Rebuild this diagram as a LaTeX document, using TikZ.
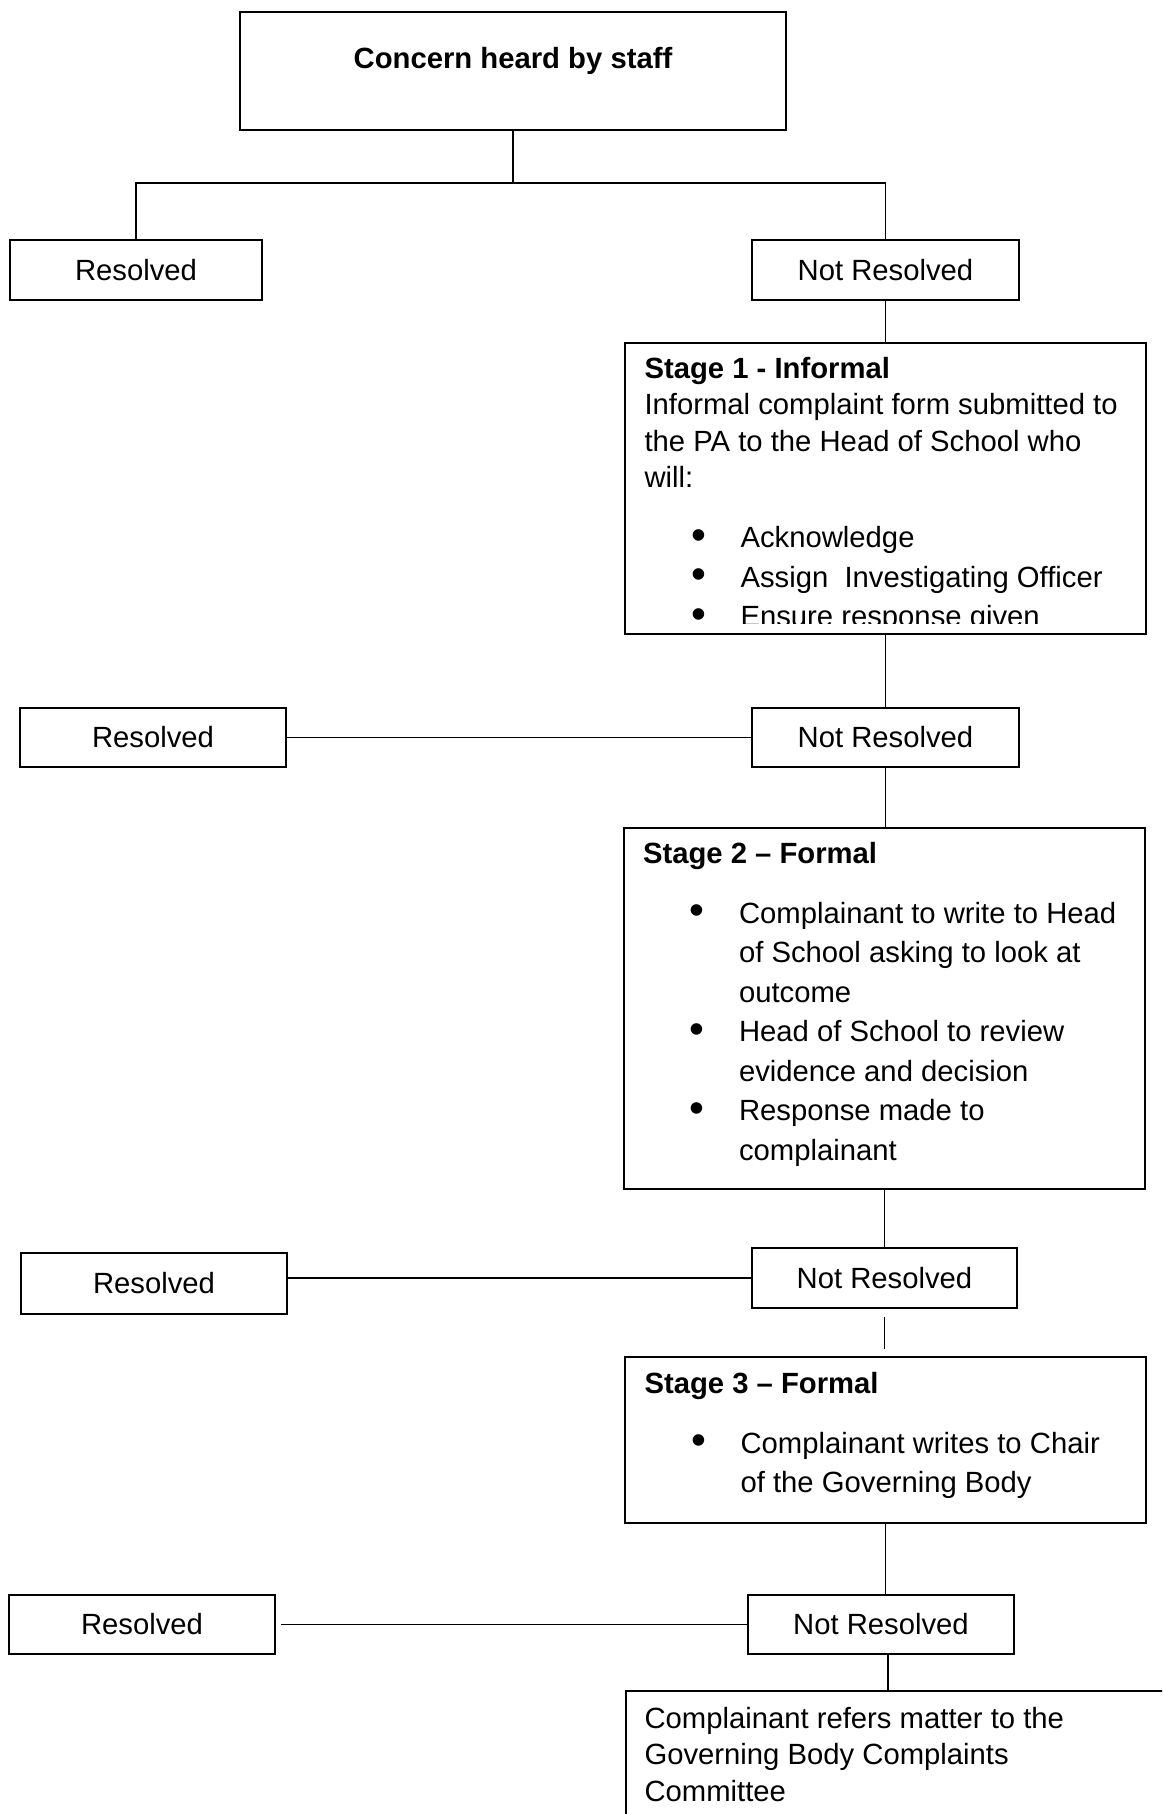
\documentclass[tikz,border=0pt]{standalone}
\usepackage{fontspec}
\setmainfont{Liberation Sans}
\usepackage{tikz}
\tikzstyle{cadre} = [rectangle, draw=black, line width=0.75pt, inner sep=0pt]
\tikzstyle{issue} = [cadre, minimum height=24pt, font=\fontsize{11.7}{14.6}\selectfont]
\tikzstyle{texte} = [anchor=north west, inner sep=0pt, align=left, font=\fontsize{11.7}{14.6}\selectfont]
\tikzstyle{trait} = [line width=0.75pt]
\newcommand{\puce}{\hspace*{18.6pt}\makebox[19.8pt][l]{\raisebox{-0.7pt}{\scalebox{1.45}{\textbullet}}}}
\newcommand{\suite}{\hspace*{38.4pt}}
\newcommand{\haut}{\rule{0pt}{10pt}}

\begin{document}
\begin{tikzpicture}[x=0.4pt, y=-0.4pt]

        \useasboundingbox (0,0) rectangle (1162,1814);
        \clip (0,0) rectangle (1162,1814);

        \node (concern) [cadre, minimum width=218.4pt, minimum height=47.2pt] at (513,71) {};
        \node (concerntitle) [texte, anchor=center, font=\fontsize{11.7}{14.6}\selectfont\bfseries] at (513,61) {Concern heard by staff};

        \node (res1) [issue, minimum width=100.8pt] at (136,270) {Resolved};
        \node (nr1) [issue, minimum width=106.8pt] at (885.5,270) {Not Resolved};

        \coordinate (fork) at (513,183);
        \draw[trait] (concern) -- (fork);
        \draw[trait] (fork) -| (res1);
        \draw[trait] (fork) -| (nr1);

        \node (stageone) [cadre, minimum width=208.4pt, minimum height=116.4pt] at (885.5,488.5) {};
        \begin{scope}
            \clip (stageone.north west) rectangle ([yshift=4.4pt]stageone.south east);
            \node (stageonetext) [texte] at ([shift={(20,10.5)}]stageone.north west) {\haut\textbf{Stage 1 - Informal}\\
                Informal complaint form submitted to\\
                the PA to the Head of School who\\
                will:\\[9.4pt]
                \puce Acknowledge\\[1.2pt]
                \puce Assign~ Investigating Officer\\[1.2pt]
                \puce Ensure response given};
        \end{scope}
        \draw[trait] (nr1) -- (stageone);

        \node (res2) [issue, minimum width=106.4pt, minimum height=23.6pt] at (153,737.5) {Resolved};
        \node (nr2) [issue, minimum width=106.8pt, minimum height=23.6pt] at (885.5,737.5) {Not Resolved};
        \draw[trait] (stageone) -- (nr2);
        \draw[trait] (res2) -- (nr2);

        \node (stagetwo) [cadre, minimum width=208.4pt, minimum height=144.4pt] at (884.5,1008.5) {};
        \node (stagetwotext) [texte] at ([shift={(19.5,10.5)}]stagetwo.north west) {\haut\textbf{Stage 2 – Formal}\\[9.4pt]
            \puce Complainant to write to Head\\[1.2pt]
            \suite of School asking to look at\\[1.2pt]
            \suite outcome\\[1.2pt]
            \puce Head of School to review\\[1.2pt]
            \suite evidence and decision\\[1.2pt]
            \puce Response made to\\[1.2pt]
            \suite complainant};
        \draw[trait] (nr2.south) -- (nr2.south |- stagetwo.north);

        \node (res3) [issue, minimum width=106.4pt, minimum height=24.4pt] at (154,1283.5) {Resolved};
        \node (nr3) [issue, minimum width=106pt] at (884.5,1278) {Not Resolved};
        \draw[trait] (stagetwo) -- (nr3);
        \draw[trait] (nr3.west) -- (nr3.west -| res3.east);

        \node (stagethree) [cadre, minimum width=208.4pt, minimum height=66.4pt] at (885.5,1440) {};
        \node (stagethreetext) [texte] at ([shift={(20,11.5)}]stagethree.north west) {\haut\textbf{Stage 3 – Formal}\\[9.4pt]
            \puce Complainant writes to Chair\\[1.2pt]
            \suite of the Governing Body};
        \draw[trait, shorten <=3.2pt, shorten >=2.8pt] (nr3.south) -- (nr3.south |- stagethree.north);

        \node (res4) [issue, minimum width=106.4pt, minimum height=23.6pt] at (142,1624.5) {Resolved};
        \node (nr4) [issue, minimum width=106.4pt, minimum height=23.6pt] at (881,1624.5) {Not Resolved};
        \draw[trait] (stagethree.south) -- (stagethree.south |- nr4.north);
        \draw[trait, shorten >=2pt] (nr4) -- (res4);

        \node (final) [cadre, minimum width=229.6pt, minimum height=63.6pt] at (913,1770.5) {};
        \node (finaltext) [texte] at ([shift={(19,12.5)}]final.north west) {\haut Complainant refers matter to the\\
            Governing Body Complaints\\
            Committee};
        \draw[trait] ([xshift=2.8pt]nr4.south) -- ([xshift=2.8pt]nr4.south |- final.north);

    \end{tikzpicture}
\end{document}
